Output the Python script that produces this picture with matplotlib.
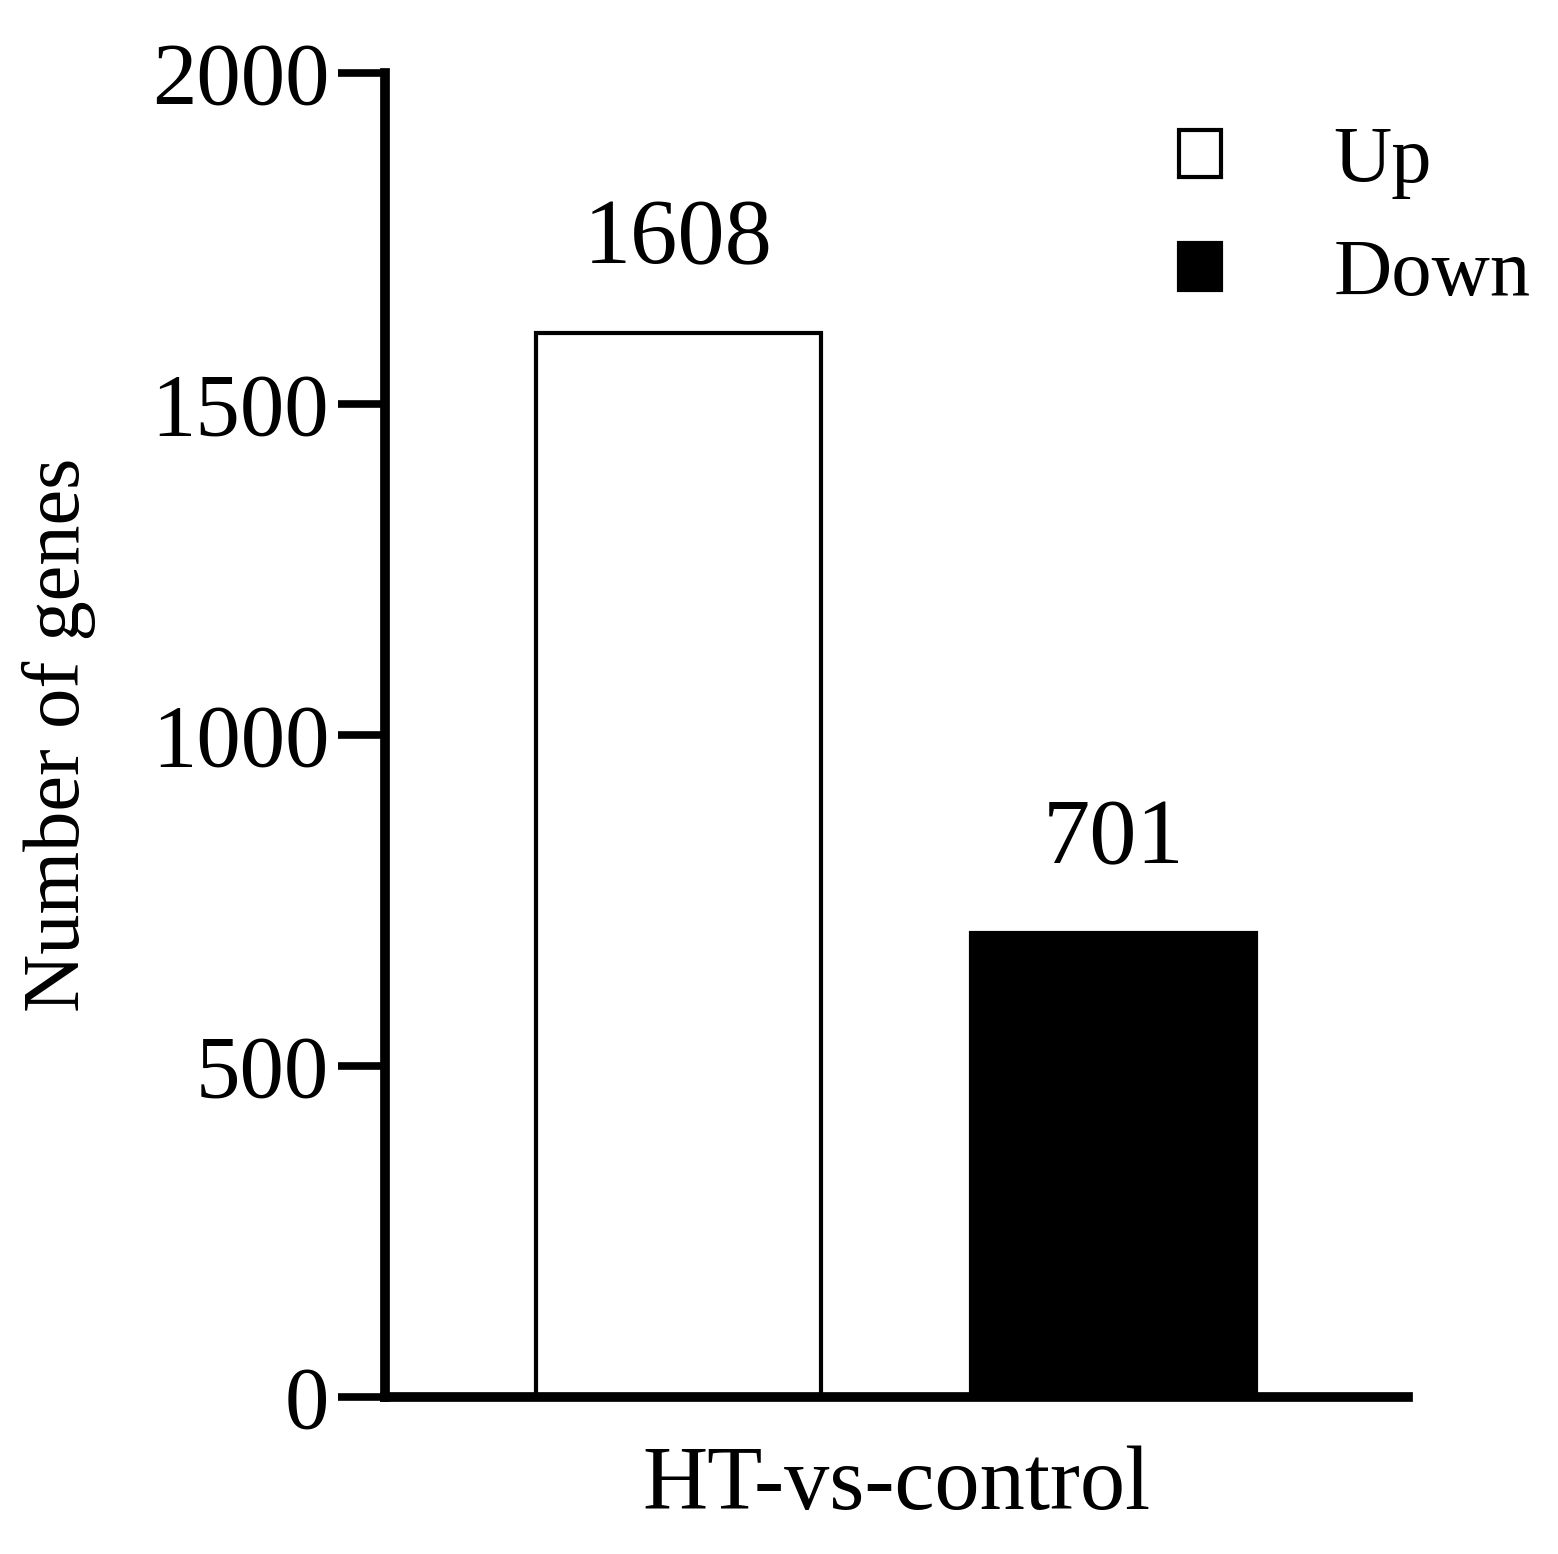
import matplotlib.pyplot as plt
from matplotlib.patches import Patch

labels = ['Up', 'Down']
values = [1608, 701]
colors = ['white', 'black']

plt.rcParams['font.family'] = ['Liberation Serif', 'DejaVu Serif']

fig = plt.figure(figsize=(15.58, 15.54), dpi=100)
ax = fig.add_axes([0.247, 0.101, 0.657, 0.852])

xpos = [0.287, 0.712]
ax.bar(xpos, values, width=0.278, color=colors, edgecolor='black', linewidth=3)
for x, v in zip(xpos, values):
    ax.text(x, v + 75, str(v), ha='center', va='bottom', fontsize=68)

ax.set_xlim(0, 1)
ax.set_ylim(0, 2000)
ax.set_yticks([0, 500, 1000, 1500, 2000])
ax.set_xticks([])
ax.set_xlabel('HT-vs-control', fontsize=65, labelpad=35)
ax.set_ylabel('Number of genes', fontsize=58, labelpad=40)
ax.tick_params(axis='y', labelsize=64, width=5.5, length=34, pad=6)
for s in ['top', 'right']:
    ax.spines[s].set_visible(False)
for s in ['left', 'bottom']:
    ax.spines[s].set_linewidth(7)

handles = [Patch(facecolor=c, edgecolor='black', linewidth=3) for c in colors]
ax.legend(handles, labels, loc='upper right', bbox_to_anchor=(1.19, 1.015), frameon=False,
          fontsize=58, handlelength=0.52, handleheight=0.52, handletextpad=1.4, labelspacing=0.5)

fig.savefig('out.png', dpi=100)
